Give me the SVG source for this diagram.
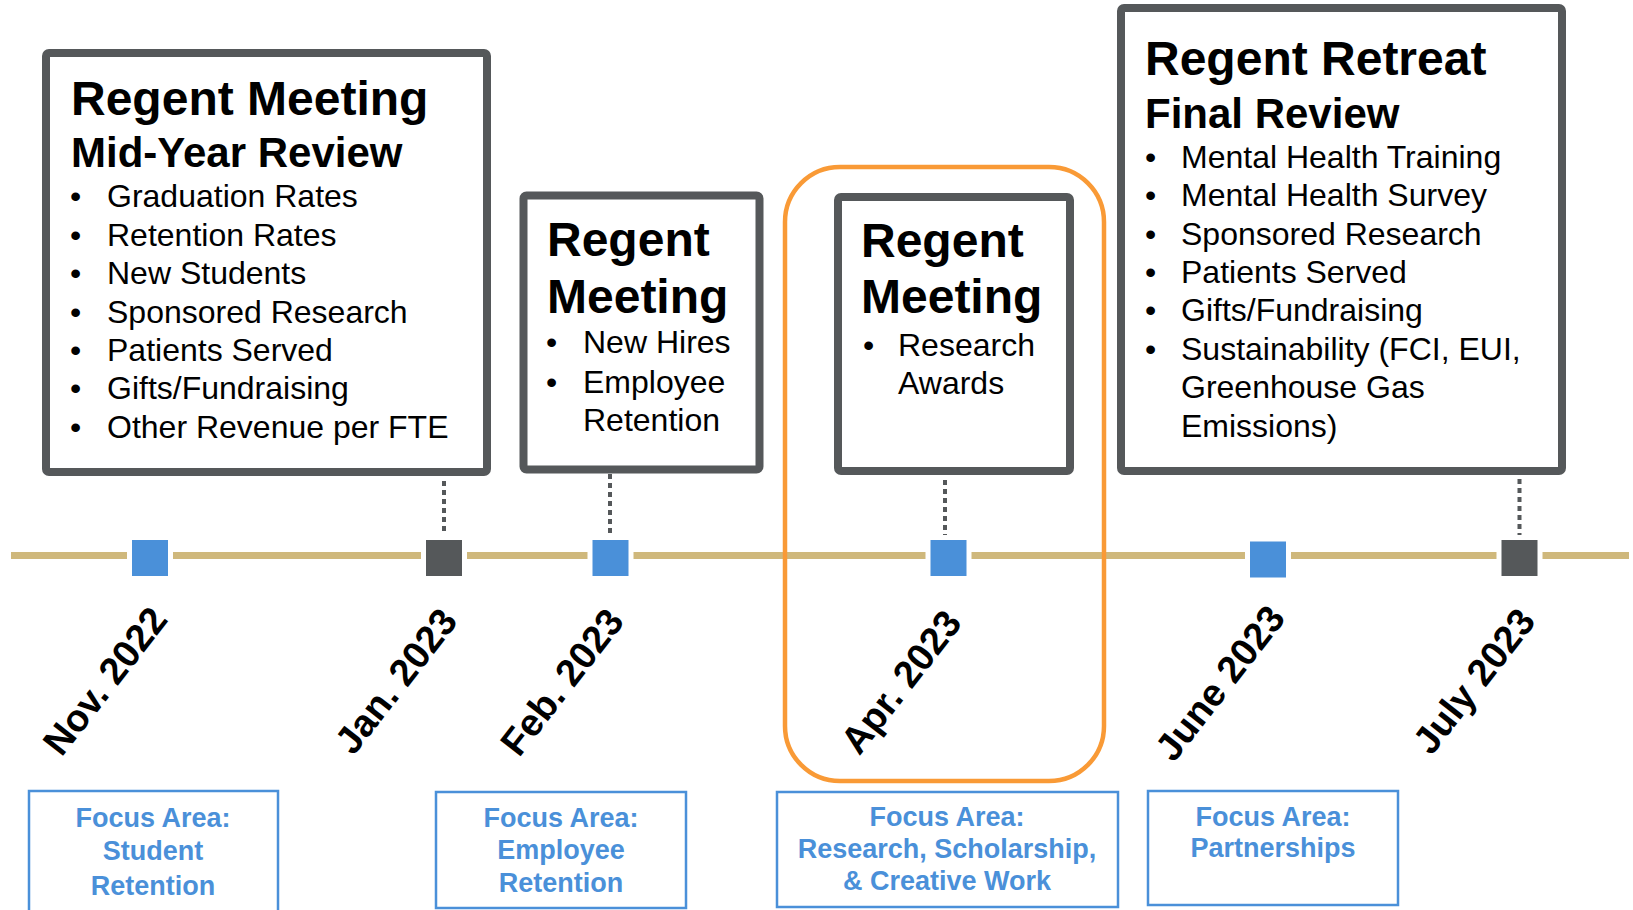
<svg xmlns="http://www.w3.org/2000/svg" width="1633" height="910" viewBox="0 0 1633 910">
<style>
.box{fill:#fff;stroke:#55585a;stroke-width:8}
.t1{font-family:"Liberation Sans",Arial,sans-serif;font-weight:bold;font-size:48px;fill:#000}
.t2{font-family:"Liberation Sans",Arial,sans-serif;font-weight:bold;font-size:42px;fill:#000}
.b{font-family:"Liberation Sans",Arial,sans-serif;font-size:32px;fill:#000}
.sqb{fill:#4a90d9;stroke:#fff;stroke-width:10;paint-order:stroke}
.sqd{fill:#55585a;stroke:#fff;stroke-width:10;paint-order:stroke}
.date{font-family:"Liberation Sans",Arial,sans-serif;font-weight:bold;font-size:38px;fill:#000;text-anchor:middle}
.fbox{fill:#fff;stroke:#4a90d9;stroke-width:2.5}
.ft{font-family:"Liberation Sans",Arial,sans-serif;font-weight:bold;font-size:27px;fill:#4a90d9;text-anchor:middle}
.dot{stroke:#55585a;stroke-width:4;stroke-dasharray:5 4;fill:none}
</style>
<rect width="1633" height="910" fill="#fff"/>

<g id="connectors">
  <line x1="11" y1="555.5" x2="1629" y2="555.5" stroke="#cfb87c" stroke-width="7"/>
  <line class="dot" x1="444" y1="481" x2="444" y2="538"/>
  <line class="dot" x1="610" y1="474" x2="610" y2="538"/>
  <line class="dot" x1="945" y1="480" x2="945" y2="538"/>
  <line class="dot" x1="1519.5" y1="479" x2="1519.5" y2="538"/>
</g>

<g id="highlight">
  <rect x="785" y="167" width="319" height="614" rx="55" fill="none" stroke="#f99a36" stroke-width="4.5"/>
</g>

<g id="box-midyear">
  <rect class="box" x="46" y="53" width="441" height="419" rx="3"/>
  <text class="t1" x="71" y="115">Regent Meeting</text>
  <text class="t2" x="71" y="167">Mid-Year Review</text>
  <g class="b">
    <text x="70" y="207">•</text><text x="107" y="207">Graduation Rates</text>
    <text x="70" y="246">•</text><text x="107" y="246">Retention Rates</text>
    <text x="70" y="284">•</text><text x="107" y="284">New Students</text>
    <text x="70" y="323">•</text><text x="107" y="323">Sponsored Research</text>
    <text x="70" y="361">•</text><text x="107" y="361">Patients Served</text>
    <text x="70" y="399">•</text><text x="107" y="399">Gifts/Fundraising</text>
    <text x="70" y="438">•</text><text x="107" y="438">Other Revenue per FTE</text>
  </g>
</g>

<g id="box-feb">
  <rect class="box" x="523.5" y="195.5" width="236" height="274" rx="3"/>
  <text class="t1" x="547" y="256">Regent</text>
  <text class="t1" x="547" y="313">Meeting</text>
  <g class="b">
    <text x="546" y="353">•</text><text x="583" y="353">New Hires</text>
    <text x="546" y="393">•</text><text x="583" y="393">Employee</text>
    <text x="583" y="431">Retention</text>
  </g>
</g>

<g id="box-apr">
  <rect class="box" x="838" y="197" width="232" height="274" rx="3"/>
  <text class="t1" x="861" y="257">Regent</text>
  <text class="t1" x="861" y="313">Meeting</text>
  <g class="b">
    <text x="863" y="356">•</text><text x="898" y="356">Research</text>
    <text x="898" y="394">Awards</text>
  </g>
</g>

<g id="box-retreat">
  <rect class="box" x="1121" y="8" width="441" height="463" rx="3"/>
  <text class="t1" x="1145" y="75">Regent Retreat</text>
  <text class="t2" x="1145" y="128">Final Review</text>
  <g class="b">
    <text x="1145" y="168">•</text><text x="1181" y="168">Mental Health Training</text>
    <text x="1145" y="206">•</text><text x="1181" y="206">Mental Health Survey</text>
    <text x="1145" y="245">•</text><text x="1181" y="245">Sponsored Research</text>
    <text x="1145" y="283">•</text><text x="1181" y="283">Patients Served</text>
    <text x="1145" y="321">•</text><text x="1181" y="321">Gifts/Fundraising</text>
    <text x="1145" y="360">•</text><text x="1181" y="360">Sustainability (FCI, EUI,</text>
    <text x="1181" y="398">Greenhouse Gas</text>
    <text x="1181" y="437">Emissions)</text>
  </g>
</g>

<g id="m-nov"><rect class="sqb" x="132" y="540" width="36" height="36"/></g>
<g id="m-jan"><rect class="sqd" x="426" y="540" width="36" height="36"/></g>
<g id="m-feb"><rect class="sqb" x="592.5" y="540" width="36" height="36"/></g>
<g id="m-apr"><rect class="sqb" x="930.5" y="540" width="36" height="36"/></g>
<g id="m-jun"><rect class="sqb" x="1250" y="541.5" width="36" height="36"/></g>
<g id="m-jul"><rect class="sqd" x="1501.5" y="540" width="36" height="36"/></g>

<g id="label-nov"><text class="date" transform="translate(105,681) rotate(-52)" y="13">Nov. 2022</text></g>
<g id="label-jan"><text class="date" transform="translate(396,681) rotate(-52)" y="13">Jan. 2023</text></g>
<g id="label-feb"><text class="date" transform="translate(562,682) rotate(-52)" y="13">Feb. 2023</text></g>
<g id="label-apr"><text class="date" transform="translate(901,682) rotate(-52)" y="13">Apr. 2023</text></g>
<g id="label-jun"><text class="date" transform="translate(1220,683) rotate(-52)" y="13">June 2023</text></g>
<g id="label-jul"><text class="date" transform="translate(1474,681) rotate(-52)" y="13">July 2023</text></g>

<g id="focus-student">
  <rect class="fbox" x="29" y="791" width="249" height="130"/>
  <text class="ft" x="153" y="827">Focus Area:</text>
  <text class="ft" x="153" y="860">Student</text>
  <text class="ft" x="153" y="895">Retention</text>
</g>
<g id="focus-employee">
  <rect class="fbox" x="436" y="792" width="250" height="116"/>
  <text class="ft" x="561" y="827">Focus Area:</text>
  <text class="ft" x="561" y="859">Employee</text>
  <text class="ft" x="561" y="892">Retention</text>
</g>
<g id="focus-research">
  <rect class="fbox" x="777" y="792" width="341" height="115"/>
  <text class="ft" x="947" y="826">Focus Area:</text>
  <text class="ft" x="947" y="858">Research, Scholarship,</text>
  <text class="ft" x="947" y="890">&amp; Creative Work</text>
</g>
<g id="focus-partnerships">
  <rect class="fbox" x="1148" y="791" width="250" height="114"/>
  <text class="ft" x="1273" y="826">Focus Area:</text>
  <text class="ft" x="1273" y="857">Partnerships</text>
</g>
</svg>
